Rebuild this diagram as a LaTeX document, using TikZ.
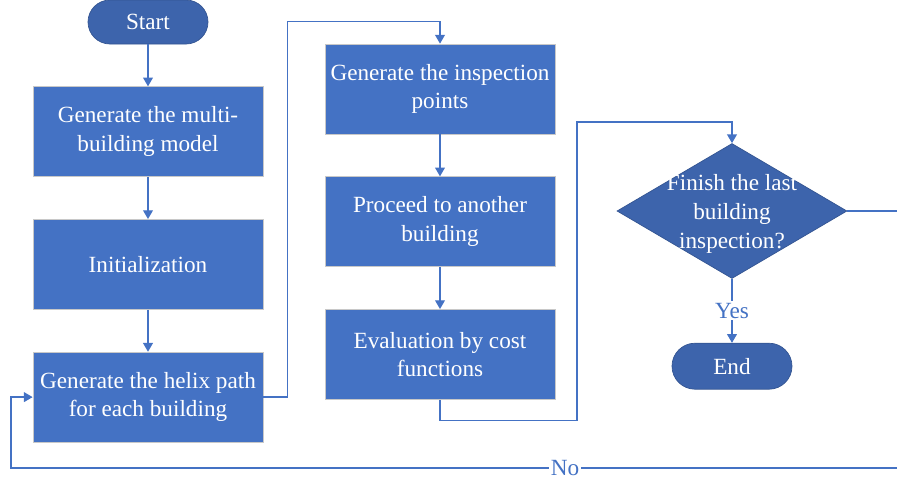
\documentclass[tikz,border=0pt]{standalone}
\usepackage{fontspec}
\setmainfont{Liberation Serif}
\usepackage{tikz}
\usetikzlibrary{arrows.meta,positioning,shapes.geometric}
\definecolor{boxblue}{RGB}{68,114,196}
\definecolor{termblue}{RGB}{61,100,172}
\definecolor{boxedge}{RGB}{200,200,200}

\begin{document}
\begin{tikzpicture}[font=\fontsize{13.2}{16.3}\selectfont, node distance=0.84cm,
  proc/.style={draw=boxedge, fill=boxblue, text=white, minimum width=4.6cm, minimum height=1.8cm, align=center, inner sep=1pt},
  term/.style={draw=termblue!85!black, fill=termblue, text=white, rounded corners=0.44cm, minimum width=2.4cm, minimum height=0.88cm},
  decision/.style={diamond, draw=termblue!85!black, fill=termblue, minimum width=4.6cm, minimum height=2.7cm, inner sep=0pt, aspect=1.7},
  flow/.style={draw=boxblue, line width=0.75pt, -{Triangle[width=5.6pt,length=5pt]}},
  lbl/.style={fill=white, text=boxblue, inner sep=1pt}]
  \useasboundingbox (0,0) rectangle (17.94,-9.58);
  \node[term] (start) at (2.96,-0.44) {Start};
  \node[proc, below=of start] (model) {Generate the multi-\\building model};
  \node[proc, below=of model] (init) {Initialization};
  \node[proc, below=of init] (helix) {Generate the helix path\\for each building};
  \node[proc] (insp) at (8.8,-1.78) {Generate the inspection\\points};
  \node[proc, below=of insp] (proceed) {Proceed to another\\building};
  \node[proc, below=of proceed] (cost) {Evaluation by cost\\functions};
  \node[decision, label={[text=white, align=center, yshift=-0.06cm]center:Finish the last\\building\\inspection?}] (check) at (14.64,-4.22) {};
  \node[term, below=1.28cm of check, minimum height=0.92cm, rounded corners=0.46cm] (end) {End};
  \coordinate (noR) at (17.98,-9.36);
  \coordinate (noL) at (0.22,-9.36);
  \draw[flow] (start) -- (model);
  \draw[flow] (model) -- (init);
  \draw[flow] (init) -- (helix);
  \draw[flow] (helix.east) -- ++(0.48,0) |- ([yshift=0.44cm]insp.north) -- (insp.north);
  \draw[flow] (insp) -- (proceed);
  \draw[flow] (proceed) -- (cost);
  \draw[flow] (cost.south) -- ++(0,-0.42) -- ++(2.74,0) |- ([yshift=0.42cm]check.north) -- (check.north);
  \draw[flow] (check.south) -- node[lbl, pos=0.5] {Yes} (end.north);
  \draw[flow] (check.east) -| (noR) -- node[lbl, pos=0.376] {No} (noL) |- (helix.west);
\end{tikzpicture}
\end{document}
